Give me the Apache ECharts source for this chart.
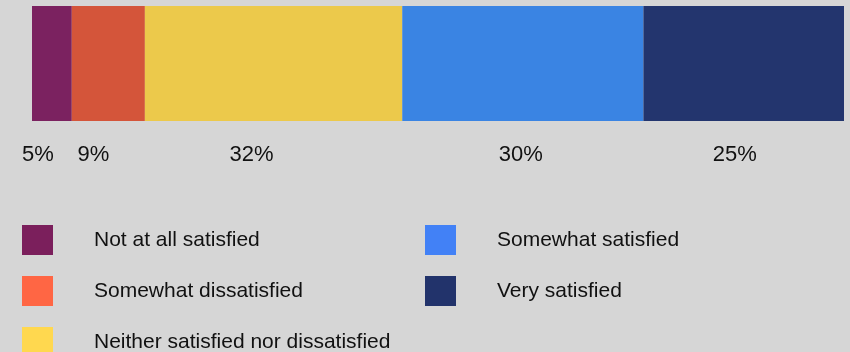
<!DOCTYPE html>
<html>
<head>
<meta charset="utf-8">
<script src="https://cdn.jsdelivr.net/npm/echarts@6/dist/echarts.min.js"></script>
<style>
  html, body { margin: 0; padding: 0; background: #d6d6d6; }
  .chart_box { width: 850px; height: 352px; }
</style>
</head>
<body>
<div class="chart_box" id="chart_box"></div>
<script>
// 数据
const categories = ['Not at all satisfied', 'Somewhat dissatisfied', 'Neither satisfied nor dissatisfied', 'Somewhat satisfied', 'Very satisfied']
const shares = [4.9, 9.0, 31.7, 29.7, 24.7]

// colours of the bar segments and of the legend swatches (they differ a little)
const barColors = ['#7b2260', '#d4553a', '#ecc94b', '#3a84e3', '#23356e']
const legendColors = ['#7b1f5c', '#ff6644', '#ffd84f', '#4281f6', '#22336b']
// small horizontal shift of each % label from the segment centre
const labelNudge = [-14, -15, -22, -2, -9]

const fontFamily = '"Liberation Sans", Arial, sans-serif'

let chart = echarts.init(document.getElementById('chart_box'))

let series = categories.map((name, i) => {
  return {
    name: name,
    type: 'bar',
    stack: 'total',
    barWidth: '100%',
    data: [shares[i]],
    itemStyle: { color: barColors[i] },
    label: {
      show: true,
      position: 'bottom',
      distance: 23,
      offset: [labelNudge[i], 0],
      color: '#111',
      fontSize: 22,
      fontFamily: fontFamily,
      formatter: (p) => Math.round(p.value) + '%',
    },
  }
})

function legendData(from, to) {
  return categories.slice(from, to).map((name, k) => {
    return { name: name, itemStyle: { color: legendColors[from + k] } }
  })
}

const legendBase = {
  orient: 'vertical',
  top: 225,
  height: 200, // 让第三项不换列
  padding: 0,
  itemWidth: 31,
  itemHeight: 30,
  itemGap: 21,
  icon: 'rect',
  selectedMode: false,
  textStyle: {
    color: '#111',
    fontSize: 21,
    fontFamily: fontFamily,
    padding: [0, 0, 0, 36],
  },
}

let option = {
  backgroundColor: '#d6d6d6',
  animation: false,
  grid: {
    left: 32,
    right: 6,
    top: 6,
    height: 115,
    containLabel: false,
  },
  xAxis: {
    type: 'value',
    min: 0,
    max: shares.reduce((a, b) => a + b, 0),
    show: false,
  },
  yAxis: {
    type: 'category',
    data: ['all'],
    show: false,
  },
  legend: [
    Object.assign({}, legendBase, { left: 22, data: legendData(0, 3) }),
    Object.assign({}, legendBase, { left: 425, data: legendData(3, 5) }),
  ],
  series: series,
}

chart.setOption(option)
</script>
</body>
</html>
